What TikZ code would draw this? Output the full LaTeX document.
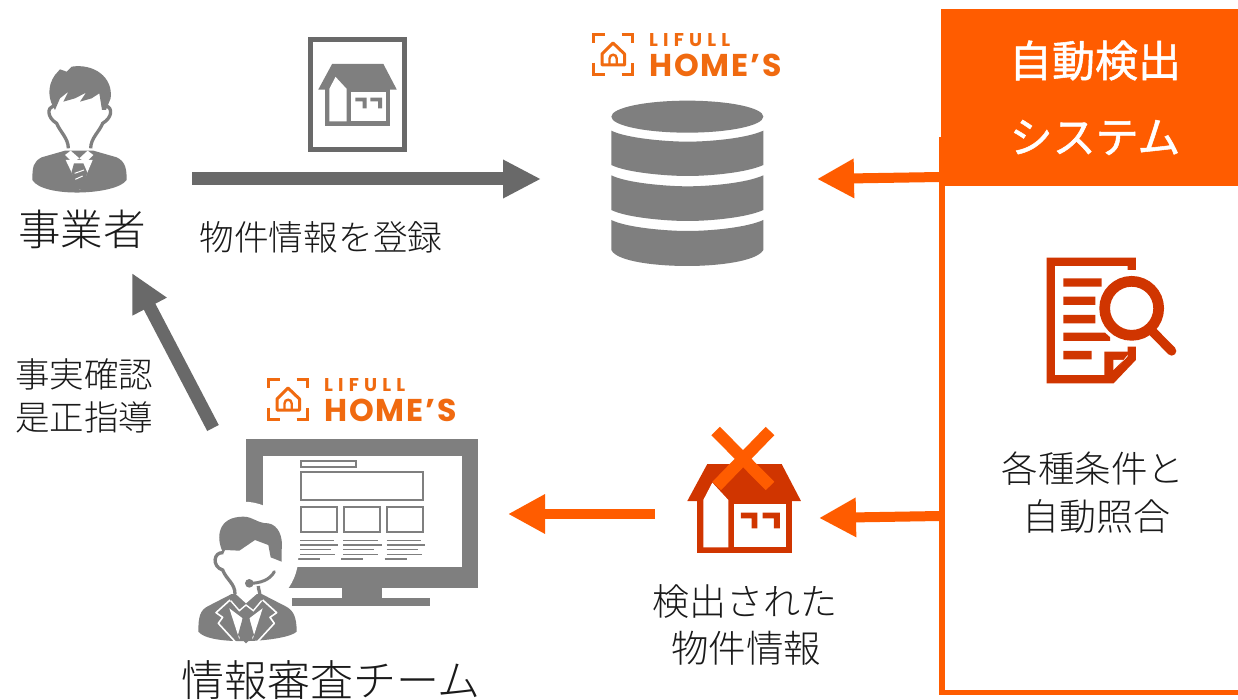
\documentclass[tikz,border=0pt]{standalone}
\usepackage{fontspec}
\usetikzlibrary{arrows.meta}
\setmainfont{Noto Sans CJK JP Light}
\newfontfamily\boldcjk[FakeBold=1.2]{Noto Sans CJK JP}
\newfontfamily\logofont[LetterSpace=6]{Poppins}
\newfontfamily\logofonttop[LetterSpace=28]{Poppins}
\definecolor{ogr}{HTML}{FF5C00}
\definecolor{lgo}{HTML}{F06A10}
\definecolor{red1}{HTML}{D03500}
\definecolor{gr1}{HTML}{7F7F7F}
\definecolor{gr2}{HTML}{696969}
\definecolor{ink}{HTML}{1A1A1A}
\tikzset{
 label/.style={inner sep=0pt,text=ink,font=\fontsize{#1}{#1}\selectfont,align=center},
 boxtitle/.style={inner sep=0pt,text=white,font=\boldcjk\fontsize{43}{43}\selectfont},
 grayarrow/.style={draw=gr2,line width=13pt,-{Triangle[length=38pt,width=36pt]}},
 orangearrow/.style={draw=ogr,line width=10pt,-{Triangle[length=37pt,width=37pt]}},
 pics/logo/.style={code={
  \begin{scope}[line width=3pt]
  \draw[lgo] (1.2,9.7) -- (1.2,1.2) -- (13,1.2);
  \draw[lgo] (29.7,1.2) -- (40.8,1.2) -- (40.8,9.7);
  \draw[lgo] (1.2,29.7) -- (1.2,41.5) -- (13,41.5);
  \draw[lgo] (29.7,41.5) -- (40.8,41.5) -- (40.8,29.7);
  \draw[lgo,line join=round] (10,32) -- (10,21) -- (21,10) -- (32.5,21) -- (32.5,32) -- cycle;
  \draw[lgo,line width=2.4pt] (17.5,31) -- (17.5,25.5) .. controls (17.5,20.5) and (24.7,20.5) .. (24.7,25.5) -- (24.7,31);
  \end{scope}
  \node[anchor=west,inner sep=0pt,text=lgo] (-a) at (57,6.7) {\logofonttop\bfseries\fontsize{18.5}{18.5}\selectfont LIFULL};
  \node[anchor=west,inner sep=0pt,text=lgo] (-b) at (57,32) {\logofont\bfseries\fontsize{31.5}{31.5}\selectfont HOME’S};
 }}
}
\newcommand{\houseicon}[1]{%
 \fill[#1] (60,0) -- (283,0) -- (341,111) -- (0,111) -- cycle;
 \fill[#1] (28,100) rectangle (313,268);
 \fill[white] (75,56) -- (48,108) -- (48,250) -- (123,250) -- (123,108) -- cycle;
 \fill[white] (141,121) rectangle (296,250);
 \fill[#1] (161,146) rectangle (210,163) (193,163) rectangle (210,193);
 \fill[#1] (226,146) rectangle (278,163) (260,163) rectangle (278,193);
}
\begin{document}
\begin{tikzpicture}[x=1pt,y=-1pt]
\useasboundingbox (0,0) rectangle (1238,700);
\fill[white] (0,0) rectangle (1238,700);

% right panel
\draw[ogr,line width=5.5pt] (942.2,137) -- (942.2,692.5) -- (1238,692.5);
\fill[ogr] (940.7,9.3) rectangle (1238,186);
\fill[ogr] (939.4,137) rectangle (941,186);
\node[boxtitle] (t1) at (1095,60.5) {自動検出};
\node[boxtitle] (t2) at (1095,137.5) {システム};

% person 1
\begin{scope}[shift={(0,30)},scale=1/3]
 \fill[gr1] (97,450) .. controls (97,410) and (100,395) .. (125,382) -- (195,362) -- (280,362) -- (350,382) .. controls (378,395) and (380,420) .. (380,450) .. controls (350,495) and (130,505) .. (97,450) -- cycle;
 \fill[white] (197,390) -- (278,390) -- (240,480) -- cycle;
 \fill[white] (195,375) -- (212,362) -- (238,385) -- (218,397) -- cycle;
 \fill[white] (280,375) -- (263,362) -- (238,385) -- (258,397) -- cycle;
 \fill[gr1] (222,400) -- (250,400) -- (262,428) -- (245,480) -- (225,470) -- (215,425) -- cycle;
 \draw[white,line width=1pt] (224,430) -- (252,420) (226,448) -- (248,438);
 \draw[gr1,line width=3.3pt,line join=round] (160,228) .. controls (142,232) and (140,262) .. (170,280) .. controls (180,305) and (205,325) .. (205,355);
 \draw[gr1,line width=3.3pt] (318,228) .. controls (338,232) and (338,262) .. (308,280) .. controls (298,305) and (272,325) .. (272,355);
 \fill[gr1] (165,240) .. controls (145,210) and (140,170) .. (165,135) -- (180,118) -- (200,125) -- (215,110) .. controls (280,100) and (340,140) .. (332,205) -- (318,240) -- (306,240) -- (298,190) -- (275,205) -- (240,215) -- (258,188) -- (225,205) -- (190,215) -- (205,185) -- (180,205) -- cycle;
\end{scope}
\node[label=42.5] (jigyo) at (82,229) {事業者};

% house frame icon
\draw[gr2,line width=5pt] (310,40) rectangle (404.5,149.5);
\begin{scope}[shift={(318.3,64)},scale=.23]
 \houseicon{gr1}
\end{scope}
\node[label=34.7] (reg) at (321,237) {物件情報を登録};

% logos
\pic (logoa) at (592,33) {logo};
\pic (logob) at (267,378) {logo};

% database
\begin{scope}[shift={(570,20)},scale=1/3]
 \fill[gr1] (352,290) ellipse[x radius=228,y radius=48];
 \fill[gr1] (124,332) .. controls (170,355) and (290,365) .. (352,365) .. controls (420,365) and (530,355) .. (580,332) -- (580,435) .. controls (530,458) and (420,468) .. (352,468) .. controls (290,468) and (170,458) .. (124,435) -- cycle;
 \fill[gr1] (124,466) .. controls (170,489) and (290,499) .. (352,499) .. controls (420,499) and (530,489) .. (580,466) -- (580,570) .. controls (530,593) and (420,603) .. (352,603) .. controls (290,603) and (170,593) .. (124,570) -- cycle;
 \fill[gr1] (124,600) .. controls (170,623) and (290,633) .. (352,633) .. controls (420,633) and (530,623) .. (580,600) -- (580,690) .. controls (560,725) and (440,738) .. (352,738) .. controls (260,738) and (140,725) .. (124,690) -- cycle;
\end{scope}

% doc icon
\begin{scope}[shift={(1030,245)},scale=1/3]
 \draw[red1,line width=8.3pt] (305,75) -- (305,50) -- (62,50) -- (62,403) -- (245,403) -- (305,340) -- (305,305);
 \fill[red1] (100,100) rectangle (215,125) (100,155) rectangle (196,180) (100,210) rectangle (196,235) (100,263) rectangle (240,288) (100,318) rectangle (185,343);
 \fill[red1] (223,320) -- (300,320) -- (245,390) -- (223,395) -- cycle;
 \fill[white] (250,345) -- (280,345) -- (250,375) -- cycle;
 \draw[white,line width=5pt] (305,190) circle[radius=100];
 \draw[red1,line width=10.7pt] (305,190) circle[radius=81];
 \draw[red1,line width=9.3pt,line cap=round] (370,262) -- (425,318);
\end{scope}
\node[label=36.5] (kakushu) at (1093,469) {各種条件と};
\node[label=37] (jido) at (1096,516) {自動照合};

% red house
\begin{scope}[shift={(687.3,464)},scale=1/3]
 \houseicon{red1}
\end{scope}
\begin{scope}[shift={(670,420)},scale=1/3]
 \draw[ogr,line width=12pt] (137,33) -- (300,198) (300,33) -- (140,198);
\end{scope}
\node[label=37] (kenshutsu) at (745,602) {検出された};
\node[label=37.5] (bukken) at (746,648) {物件情報};

% monitor
\begin{scope}[shift={(180,370)},scale=1/3]
 \fill[gr1] (198,208) rectangle (895,655);
 \fill[gr1] (485,655) rectangle (605,686);
 \fill[gr1] (335,685) rectangle (750,708);
 \fill[white] (250,258) rectangle (845,590);
 \draw[gr1,line width=1.7pt] (362,274) rectangle (528,290);
 \draw[gr1,line width=1.7pt] (362,305) rectangle (730,390);
 \draw[gr1,line width=1.7pt] (362,410) rectangle (472,487);
 \draw[gr1,line width=1.7pt] (491,410) rectangle (601,487);
 \draw[gr1,line width=1.7pt] (620,410) rectangle (730,487);
 \foreach \s in {360,490,620}{
  \draw[gr1,line width=1.6pt] (\s,512) -- ++(103,0);
  \draw[gr1,line width=1.6pt] (\s,525) -- ++(115,0);
  \draw[gr1,line width=1.6pt] (\s,539) -- ++(93,0);
  \draw[gr1,line width=1.6pt] (\s,553) -- ++(105,0);
  \draw[gr1,line width=1.6pt] (\s-6,567) -- ++(66,0);
 }
 \fill[white] (190,560) circle[radius=165];
 % person 2
 \fill[gr1] (55,785) .. controls (55,740) and (60,720) .. (85,708) -- (155,672) -- (245,672) -- (315,708) .. controls (340,720) and (350,740) .. (350,785) .. controls (320,815) and (90,830) .. (55,785) -- cycle;
 \draw[white,line width=1.6pt,line join=round] (150,690) -- (108,728) -- (128,742) -- (115,760) -- (170,820);
 \draw[white,line width=1.6pt,line join=round] (248,690) -- (290,728) -- (270,742) -- (283,760) -- (228,820);
 \fill[white] (148,715) -- (178,808) -- (188,745) -- cycle;
 \fill[white] (248,715) -- (218,808) -- (208,745) -- cycle;
 \fill[gr1] (185,722) -- (212,722) -- (208,745) -- (222,795) -- (198,820) -- (174,795) -- (188,745) -- cycle;
 \draw[white,line width=1.4pt] (152,692) -- (178,722) -- (198,705) -- (220,722) -- (245,692);
 \fill[white] (160,665) -- (238,665) -- (198,700) -- cycle;
 \draw[gr1,line width=3.3pt] (130,548) .. controls (100,545) and (95,590) .. (128,600) .. controls (140,630) and (165,640) .. (165,672);
 \draw[gr1,line width=3.3pt] (235,648) .. controls (235,660) and (240,665) .. (240,675);
 \fill[gr1] (130,550) .. controls (105,500) and (115,440) .. (190,440) .. controls (220,440) and (230,460) .. (265,460) .. controls (295,465) and (310,500) .. (305,540) -- (305,575) -- (272,562) -- (265,525) -- (225,510) -- (178,542) -- (135,540) -- cycle;
 \draw[gr1,line width=3pt,line cap=round] (208,640) .. controls (240,640) and (270,630) .. (283,605);
 \fill[gr1] (208,640) circle[radius=13];
\end{scope}
\node[label=43] (shinsa) at (331,680) {情報審査チーム};
\node[label=34.5] (jijitsu) at (84,374) {事実確認};
\node[label=34.5] (zesei) at (84,417) {是正指導};

% connectors
\coordinate (a1s) at (192,179);
\coordinate (a1e) at (541,179);
\coordinate (a2s) at (940,177);
\coordinate (a2e) at (817,179);
\coordinate (a3s) at (940,516);
\coordinate (a3e) at (819,518);
\coordinate (a4s) at (655,514);
\coordinate (a4e) at (508,514);
\coordinate (a5s) at (213,428);
\coordinate (a5e) at (132,273);
\draw[grayarrow] (a1s) -- (a1e);
\draw[orangearrow] (a2s) -- (a2e);
\draw[orangearrow] (a3s) -- (a3e);
\draw[orangearrow] (a4s) -- (a4e);
\draw[grayarrow] (a5s) -- (a5e);
\end{tikzpicture}
\end{document}
